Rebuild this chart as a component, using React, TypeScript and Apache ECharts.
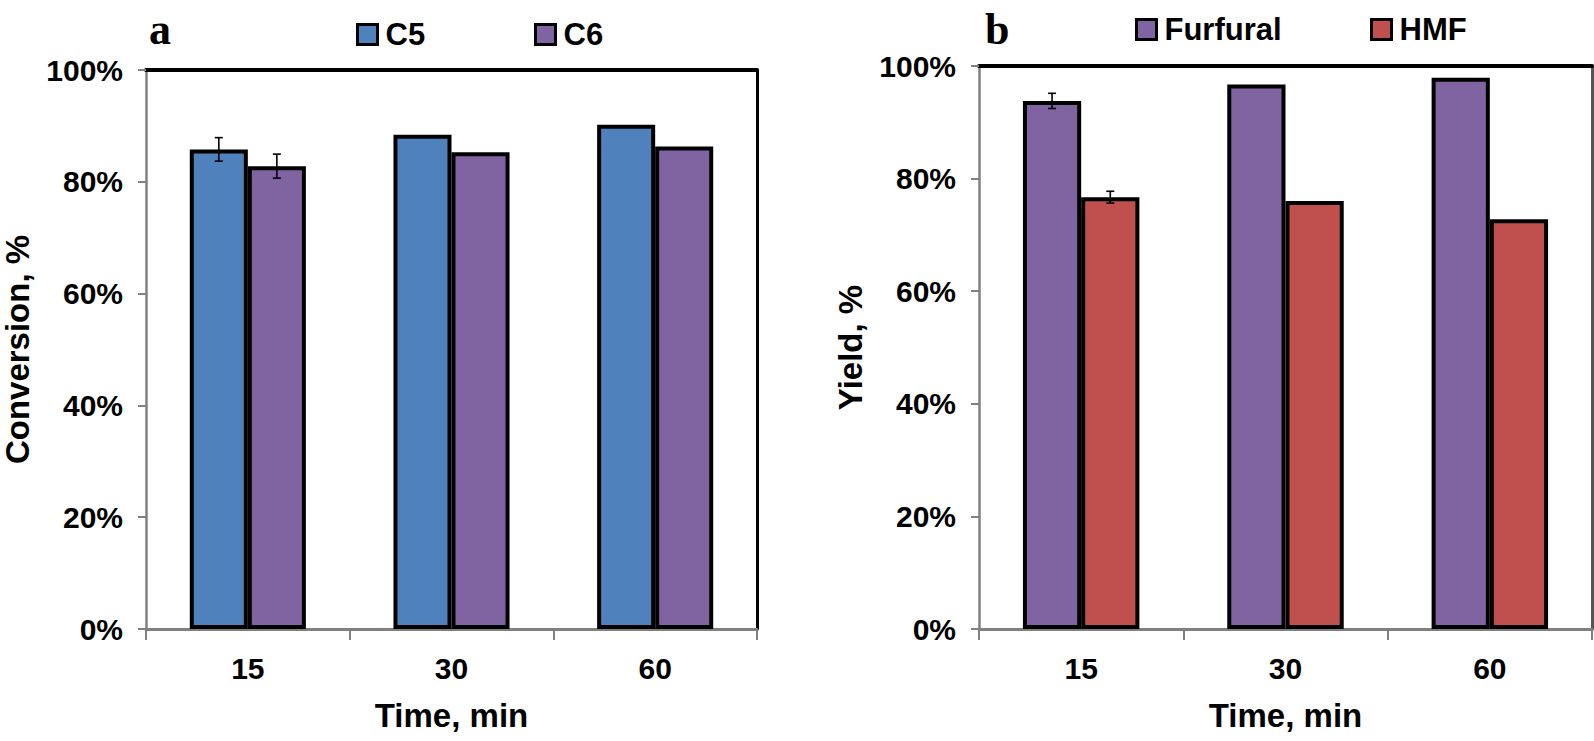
import React, { useEffect, useRef } from "react";
import * as echarts from "echarts";

const categories = ["15", "30", "60"];
const yTicks = [0, 20, 40, 60, 80, 100];

const c5Values = [85.8, 88.4, 90.2];
const c6Values = [82.8, 85.3, 86.3];
const c5Err = [2.1, 0, 0];
const c6Err = [2.15, 0, 0];

const furfuralValues = [93.8, 96.7, 97.9];
const hmfValues = [76.7, 76.0, 72.8];
const furfuralErr = [1.35, 0, 0];
const hmfErr = [1.05, 0, 0];

const BLUE = "#4F81BD";
const PURPLE = "#8064A2";
const RED = "#C0504D";
const GRAY = "#808080";
const FONT = "'Liberation Sans', Arial, Helvetica, sans-serif";
const BAR_W = 0.285;

function errorSeries(name: string, values: number[], errs: number[], side: number, axisIdx: number) {
  return {
    name,
    type: "custom",
    xAxisIndex: axisIdx,
    yAxisIndex: axisIdx,
    z: 10,
    silent: true,
    data: values.map((v, i) => [i, v, errs[i]]),
    renderItem: (params: any, api: any) => {
      const idx = api.value(0);
      const v = api.value(1);
      const e = api.value(2);
      if (!e) return null;
      const band = api.size([1, 0])[0];
      const center = api.coord([idx, v]);
      const x = center[0] + (side * band * BAR_W) / 2;
      const top = api.coord([idx, v + e])[1];
      const bot = api.coord([idx, v - e])[1];
      const cap = 4;
      const st = { stroke: "#000", lineWidth: 1.6 };
      return {
        type: "group",
        children: [
          { type: "line", shape: { x1: x, y1: top, x2: x, y2: bot }, style: st },
          { type: "line", shape: { x1: x - cap, y1: top, x2: x + cap, y2: top }, style: st },
          { type: "line", shape: { x1: x - cap, y1: bot, x2: x + cap, y2: bot }, style: st },
        ],
      };
    },
  };
}

function barSeries(name: string, values: number[], color: string, axisIdx: number) {
  return {
    name,
    type: "bar",
    xAxisIndex: axisIdx,
    yAxisIndex: axisIdx,
    barWidth: (BAR_W * 100).toFixed(1) + "%",
    barGap: "0%",
    data: values,
    itemStyle: { color, borderColor: "#000", borderWidth: 4 },
  };
}

function mainX(gridIndex: number) {
  return {
    type: "category",
    gridIndex,
    data: categories,
    position: "bottom",
    name: "Time, min",
    nameLocation: "middle",
    nameGap: 70,
    nameTextStyle: { fontFamily: FONT, fontWeight: "bold", fontSize: 33, color: "#000" },
    axisLine: { show: true, onZero: false, lineStyle: { color: GRAY, width: 3 } },
    axisTick: { show: true, length: 11, lineStyle: { color: GRAY, width: 2 } },
    axisLabel: { margin: 24, fontFamily: FONT, fontWeight: "bold", fontSize: 30, color: "#000" },
  };
}

function topX(gridIndex: number) {
  return {
    type: "category",
    gridIndex,
    data: categories,
    position: "top",
    axisLine: { show: true, onZero: false, lineStyle: { color: "#000", width: 4 } },
    axisTick: { show: false },
    axisLabel: { show: false },
  };
}

function mainY(gridIndex: number, name: string) {
  return {
    type: "value",
    gridIndex,
    min: 0,
    max: 100,
    interval: 20,
    name,
    nameLocation: "middle",
    nameGap: 112,
    nameTextStyle: { fontFamily: FONT, fontWeight: "bold", fontSize: 33, color: "#000" },
    axisLine: { show: true, onZero: false, lineStyle: { color: GRAY, width: 2.5 } },
    axisTick: { show: true, length: 8, lineStyle: { color: GRAY, width: 2 } },
    splitLine: { show: false },
    axisLabel: {
      margin: 23,
      fontFamily: FONT,
      fontWeight: "bold",
      fontSize: 30,
      color: "#000",
      formatter: (v: number) => (yTicks.includes(v) ? v + "%" : ""),
    },
  };
}

function rightY(gridIndex: number, color: string) {
  return {
    type: "value",
    gridIndex,
    min: 0,
    max: 100,
    interval: 20,
    position: "right",
    axisLine: { show: true, onZero: false, lineStyle: { color, width: 3 } },
    axisTick: { show: false },
    axisLabel: { show: false },
    splitLine: { show: false },
  };
}

function legendItem(name: string, left: number, top: number) {
  return {
    data: [name],
    left,
    top,
    itemWidth: 20,
    itemHeight: 20,
    itemGap: 0,
    icon: "rect",
    itemStyle: { borderColor: "#000", borderWidth: 3 },
    textStyle: { fontFamily: FONT, fontWeight: "bold", fontSize: 31, color: "#000", padding: [0, 0, 0, 3] },
  };
}

export default function App() {
  const ref = useRef<HTMLDivElement>(null);
  useEffect(() => {
    document.body.style.margin = "0";
    const chart = echarts.init(ref.current!, null, { renderer: "svg" });
    chart.setOption({
      animation: false,
      backgroundColor: "#fff",
      title: [
        { text: "a", left: 144, top: 2, textStyle: { fontFamily: "'Liberation Serif', 'Times New Roman', serif", fontWeight: "bold", fontSize: 44, color: "#000" } },
        { text: "b", left: 980, top: 2, textStyle: { fontFamily: "'Liberation Serif', 'Times New Roman', serif", fontWeight: "bold", fontSize: 44, color: "#000" } },
      ],
      legend: [
        legendItem("C5", 351, 14),
        legendItem("C6", 529, 14),
        legendItem("Furfural", 1130, 9),
        legendItem("HMF", 1365, 9),
      ],
      grid: [
        { left: 143, top: 70, width: 614, height: 559 },
        { left: 979, top: 66, width: 613, height: 563 },
      ],
      xAxis: [mainX(0), topX(0), mainX(1), topX(1)],
      yAxis: [mainY(0, "Conversion, %"), rightY(0, "#000"), mainY(1, "Yield, %"), rightY(1, "#555")],
      series: [
        barSeries("C5", c5Values, BLUE, 0),
        barSeries("C6", c6Values, PURPLE, 0),
        errorSeries("C5 err", c5Values, c5Err, -1, 0),
        errorSeries("C6 err", c6Values, c6Err, 1, 0),
        barSeries("Furfural", furfuralValues, PURPLE, 2),
        barSeries("HMF", hmfValues, RED, 2),
        errorSeries("Furfural err", furfuralValues, furfuralErr, -1, 2),
        errorSeries("HMF err", hmfValues, hmfErr, 1, 2),
      ],
    });
    return () => chart.dispose();
  }, []);
  return <div ref={ref} style={{ width: 1594, height: 741 }} />;
}
